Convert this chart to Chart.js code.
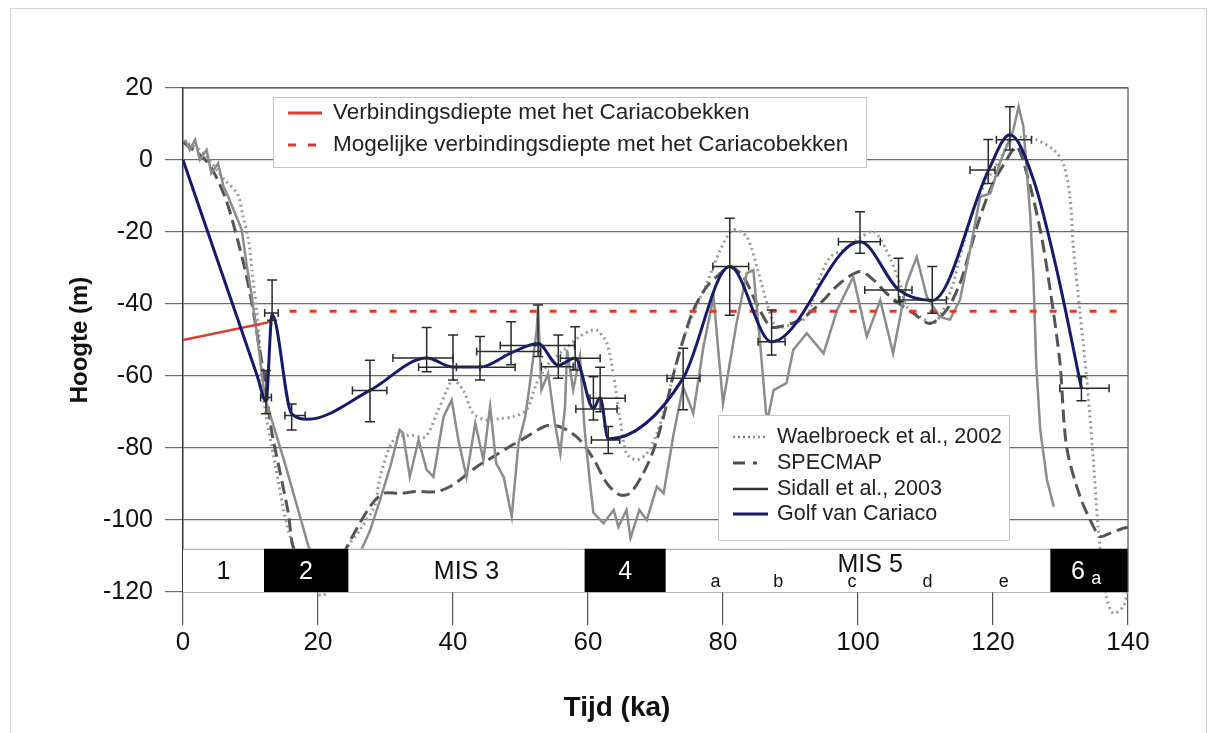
<!DOCTYPE html>
<html>
<head>
<meta charset="utf-8">
<script src="https://cdn.jsdelivr.net/npm/chart.js@4.4.1/dist/chart.umd.min.js"></script>
<style>
  html, body { margin: 0; padding: 0; background: #fff; }
  canvas { display: block; }
</style>
</head>
<body>
<canvas id="chart" width="1214" height="733"></canvas>
<script>
// Golf van Cariaco (smooth curve through the dated samples)
const golfKa = [0, 4, 8, 11, 12.3, 13.2, 16.1, 18.5, 27.7, 36.1, 40, 44, 48.7, 52.6, 55.6, 58.1, 60.8, 61.8, 63, 74.1, 81, 87.2, 100.3, 106, 111, 119.3, 122.5, 126, 129.5, 133.1];
const golfM  = [0, -21.8, -43.6, -60, -67, -43, -70.5, -72, -64, -55, -57.5, -57.5, -53.5, -51, -57, -55, -69, -66, -77.5, -60.6, -29.6, -50.5, -22.7, -36, -39, -3, 7, -5.5, -31, -63.4];

// error bars of the Cariaco samples
const ebKa   = [12.3, 13.2, 16.1, 27.7, 36.1, 40.0, 44.0, 48.6, 52.6, 55.6, 58.1, 60.8, 61.8, 63.0, 74.1, 81.0, 87.2, 100.3, 106.0, 111.0, 119.3, 122.5, 133.1];
const ebM    = [-66, -42.5, -71, -64, -55, -57.6, -57.6, -53.2, -51.5, -57.4, -55.1, -69.2, -66.2, -77.8, -60.6, -29.6, -50.5, -22.7, -36.1, -38.9, -2.8, 5.6, -63.4];
const ebKaLo = [11.5, 12.1, 15.1, 25.1, 31.1, 34.9, 40.5, 43.5, 47.0, 53.1, 55.9, 58.2, 60.3, 60.5, 71.7, 78.5, 85.2, 97.1, 101.0, 106.2, 116.6, 120.5, 129.9];
const ebKaHi = [13.1, 14.1, 18.1, 30.2, 40.0, 44.0, 49.2, 53.0, 58.0, 57.8, 61.8, 64.3, 65.5, 64.7, 76.6, 83.8, 89.2, 103.3, 108.0, 113.1, 120.3, 125.7, 137.2];
const ebMLo  = [-70.5, -44.5, -75, -72.7, -58.8, -61.1, -61.1, -56.9, -54.6, -60.6, -58.3, -72.2, -69.9, -81.5, -69.4, -43.1, -54.2, -25.9, -39.4, -42.6, -6.5, 2.8, -66.9];
const ebMHi  = [-58.5, -33.3, -67.8, -55.6, -46.5, -48.6, -49.0, -44.9, -40.3, -48.6, -46.3, -60.2, -57.6, -74.0, -52.3, -16.2, -41.7, -14.4, -27.3, -29.6, 5.7, 14.8, -60.2];

// Waelbroeck et al., 2002
const waeKa = [0, 0.8, 3, 6.2, 8.1, 8.9, 9.7, 10.2, 11.2, 11.9, 13.6, 15.6, 18, 20.5, 23, 24.4, 26.2, 28.4, 29.2, 31.2, 33.6, 35.9, 37.6, 39.1, 40.0, 41.5, 43, 45, 47, 48.9, 50.9, 52.4, 54, 56.3, 58.8, 60.3, 61.3, 62.8, 63.8, 64.7, 65.7, 67.2, 68.7, 70.2, 71.7, 73.6, 75.6, 77.6, 79.6, 81.5, 83.5, 85, 86.5, 87.5, 88.4, 90.4, 92.4, 94.4, 95.9, 97.8, 100, 102.3, 104.2, 106.2, 107.2, 109.2, 111.2, 112.6, 114.1, 115.1, 117.1, 119.1, 121, 122.5, 124.5, 126, 129, 130.4, 131.4, 131.9, 132.9, 133.9, 134.9, 135.6, 136.8, 137.8, 139.3, 140];
const waeM  = [5, 4.6, 2, -5.6, -9.5, -15.7, -22.2, -30.5, -47, -66, -84, -102.8, -115, -121, -116, -107.5, -102.8, -96, -88, -77.8, -76.4, -76.9, -70.4, -63.9, -61, -63.9, -70.4, -72.2, -71.8, -71.3, -69.4, -62, -57, -53, -49, -47.5, -47.2, -50.9, -60, -71.3, -81.5, -83.3, -81.5, -76, -66.7, -52.8, -42.6, -34.3, -25, -19.4, -21.3, -29.6, -39.8, -45.4, -46.5, -45.5, -43.5, -32.4, -26.9, -25, -22, -19.9, -25, -34.3, -40.7, -43.5, -45.4, -41.7, -34.3, -26.9, -13.9, -5.6, 0, 5, 6.5, 6, 2.8, -0.9, -10.2, -24.1, -42.6, -61.1, -84.3, -102.8, -121.3, -125.9, -124, -119];

// SPECMAP
const spcKa = [0, 3.7, 6.2, 7.7, 9.2, 10.2, 11.2, 12.1, 13.1, 14.1, 15.6, 16.3, 18.5, 20.5, 23, 24.3, 27.7, 29.7, 32.1, 34.6, 37.6, 39.6, 41, 43.5, 46, 48.4, 50.9, 53.4, 54.9, 56.9, 58.8, 60.8, 62.8, 64.7, 66.2, 68.2, 69.7, 71.2, 72.7, 74.1, 75.6, 77.6, 79.6, 81, 83, 85, 87, 88.4, 91.4, 94.4, 97.3, 100.3, 102.3, 104.2, 106.2, 108.2, 110.7, 113.1, 115.1, 116.6, 118.1, 120, 122, 123.5, 125, 127, 128.4, 129.9, 130.9, 132.9, 134.9, 135.9, 137.3, 139.3, 140];
const spcM  = [5, -0.8, -10.2, -19.4, -30.5, -39.8, -50.9, -61.1, -75, -84.3, -98.1, -107.4, -118, -121, -113, -107.4, -96.3, -92.6, -92.6, -92.1, -92.1, -90.7, -88.9, -85.2, -82.4, -79.6, -76.9, -74.1, -73.6, -75, -77.8, -83, -89.8, -93, -92.6, -87, -80.6, -71.3, -59.3, -50, -41.7, -35.2, -31.5, -29.6, -32.4, -40, -46.3, -46.3, -44.4, -39.8, -34.3, -31, -33.3, -37, -40, -42.6, -45.4, -41.7, -34.3, -25, -15.7, -6.5, 0, 3.7, -3.7, -19.4, -35.2, -56, -79.6, -93.5, -101.9, -104.6, -103.7, -102.3, -102];

// Sidall et al., 2003
const sidKa = [0.3, 1, 1.8, 2.5, 3.5, 4.2, 5.2, 6, 6.7, 7.7, 8.7, 9.4, 10.2, 11.2, 12.1, 15.1, 18.6, 22, 26, 27.7, 29.2, 30.7, 32.1, 32.6, 33.6, 34.9, 36.1, 37.1, 38.6, 39.8, 40.8, 42, 43.3, 44.5, 45.5, 46.4, 47.5, 48.7, 49.7, 50.7, 51.4, 52.4, 52.6, 53.1, 54.1, 55.1, 55.9, 56.6, 56.9, 57.8, 58.8, 59.5, 60.3, 60.8, 62.3, 63.8, 64.5, 65.7, 66.3, 67.6, 68.7, 70.2, 71.2, 72.7, 74.1, 75.6, 77.1, 78.6, 80, 82, 83.5, 84.5, 85.5, 86.5, 87.5, 89.4, 90.4, 92.4, 94.9, 96.9, 99.3, 101.3, 103.3, 105.2, 107.2, 108.7, 110.2, 112.1, 113.6, 115.1, 116.6, 118.1, 119.6, 121, 123, 123.8, 124.5, 125.5, 126, 126.4, 127, 128, 129];
const sidM  = [5.6, 2.8, 5.6, 0, 2.8, -3.7, -0.9, -7.4, -10.2, -14.8, -19.4, -28.7, -38, -51.9, -65.7, -84.3, -107.4, -121, -110, -103, -94.4, -85.2, -75, -75.9, -88, -77.8, -86.1, -88, -71.3, -66.7, -77.8, -88, -73.1, -83.3, -68.5, -84.3, -88, -99, -78.7, -71.3, -62, -47.2, -40.7, -63.9, -59.3, -73.1, -81.5, -68.5, -52.8, -63.9, -54.6, -75, -89.8, -98, -100.9, -97.2, -101.9, -97.2, -105, -97.2, -100, -90.7, -92.6, -75.9, -63, -70.4, -51.9, -38, -67.6, -45.4, -31.5, -30.6, -50.9, -73, -63.9, -62, -52.8, -48.1, -53.7, -41.7, -32.4, -49, -38.9, -53.7, -34.3, -26.9, -38, -43.5, -44.4, -38.9, -25, -10.2, -9.3, -0.9, 8.3, 14.8, 9.3, -14.8, -33.3, -56.5, -75, -88.9, -96.3];

// connection depth with the Cariaco basin
const verbKa = [0, 12.9, 13.3];
const verbM  = [-50, -45, -42.5];
const mogKa  = [15.8, 140];
const mogM   = [-42, -42];

// marine isotope stages band
const misFrom  = [0, 12, 24.5, 59.5, 71.5, 128.5];
const misTo    = [12, 24.5, 59.5, 71.5, 128.5, 140];
const misText  = ['1', '2', 'MIS 3', '4', 'MIS 5', '6'];
const misAtKa  = [6, 18.2, 42, 65.5, 101.8, 132.6];
const misDark  = [false, true, false, true, false, true];
const subText  = ['a', 'b', 'c', 'd', 'e'];
const subAtKa  = [78.9, 88.2, 99.1, 110.3, 121.6];

const yTicks = [20, 0, -20, -40, -60, -80, -100, -120];
const xTicks = [0, 20, 40, 60, 80, 100, 120, 140];

const FONT = '"Liberation Sans", Arial, sans-serif';
const NAVY = '#161a6e';
const RED = '#de3a2f';

const pts = (xs, ys) => xs.map((v, i) => ({x: v, y: ys[i]}));

const extras = {
  id: 'extras',
  beforeDraw(chart) {
    const {ctx} = chart;
    ctx.save();
    ctx.strokeStyle = '#d4d4d4';
    ctx.lineWidth = 1;
    ctx.strokeRect(10.5, 8.5, 1196, 740);
    ctx.restore();
  },
  afterDatasetsDraw(chart) {
    const {ctx, chartArea: a, scales: {x, y}} = chart;
    ctx.save();
    // error bars
    ctx.strokeStyle = '#2a2a2a';
    ctx.lineWidth = 1.5;
    ebKa.forEach((k, i) => {
      const px = x.getPixelForValue(k);
      const py = y.getPixelForValue(ebM[i]);
      const t = y.getPixelForValue(ebMHi[i]);
      const b = y.getPixelForValue(ebMLo[i]);
      const l = x.getPixelForValue(ebKaLo[i]);
      const r = x.getPixelForValue(ebKaHi[i]);
      ctx.beginPath();
      ctx.moveTo(px, t); ctx.lineTo(px, b);
      ctx.moveTo(px - 5, t); ctx.lineTo(px + 5, t);
      ctx.moveTo(px - 5, b); ctx.lineTo(px + 5, b);
      ctx.moveTo(l, py); ctx.lineTo(r, py);
      ctx.moveTo(l, py - 4); ctx.lineTo(l, py + 4);
      ctx.moveTo(r, py - 4); ctx.lineTo(r, py + 4);
      ctx.stroke();
    });

    // MIS band
    const top = y.getPixelForValue(-108);
    const bot = y.getPixelForValue(-120);
    ctx.fillStyle = '#fff';
    ctx.fillRect(a.left, top, a.right - a.left, bot - top);
    ctx.strokeStyle = '#9a9a9a';
    ctx.lineWidth = 1;
    ctx.beginPath();
    ctx.moveTo(a.left, top + 0.5); ctx.lineTo(a.right, top + 0.5);
    ctx.stroke();
    ctx.textAlign = 'center';
    ctx.textBaseline = 'middle';
    misFrom.forEach((f, i) => {
      const l = x.getPixelForValue(f), r = x.getPixelForValue(misTo[i]);
      if (misDark[i]) {
        ctx.fillStyle = '#000';
        ctx.fillRect(l, top, r - l, bot - top);
      }
      ctx.fillStyle = misDark[i] ? '#fff' : '#111';
      ctx.font = `25px ${FONT}`;
      const ly = i === 4 ? y.getPixelForValue(-112.4) : y.getPixelForValue(-114.4);
      ctx.fillText(misText[i], x.getPixelForValue(misAtKa[i]), ly);
    });
    ctx.font = `18px ${FONT}`;
    ctx.fillStyle = '#111';
    subText.forEach((s, i) => {
      ctx.fillText(s, x.getPixelForValue(subAtKa[i]), y.getPixelForValue(-117.3));
    });
    ctx.fillStyle = '#fff';
    ctx.fillText('a', x.getPixelForValue(135.3), y.getPixelForValue(-116.5));

    // frame top and right
    ctx.strokeStyle = '#555';
    ctx.lineWidth = 1.2;
    ctx.beginPath();
    ctx.moveTo(a.left, a.top); ctx.lineTo(a.right, a.top); ctx.lineTo(a.right, a.bottom);
    ctx.stroke();
    ctx.restore();
  },
  afterDraw(chart) {
    const {ctx} = chart;
    ctx.save();
    // axis titles
    ctx.fillStyle = '#111';
    ctx.textAlign = 'center';
    ctx.textBaseline = 'middle';
    ctx.font = `bold 28px ${FONT}`;
    ctx.fillText('Tijd (ka)', 617, 708);
    ctx.translate(80, 340);
    ctx.rotate(-Math.PI / 2);
    ctx.font = `bold 24px ${FONT}`;
    ctx.fillText('Hoogte (m)', 0, 0);
    ctx.restore();

    // legend top
    ctx.save();
    ctx.fillStyle = '#fff';
    ctx.strokeStyle = '#c4c4c4';
    ctx.lineWidth = 1;
    ctx.fillRect(273, 97, 593, 70);
    ctx.strokeRect(273.5, 97.5, 593, 70);
    ctx.lineWidth = 3;
    ctx.strokeStyle = RED;
    ctx.beginPath(); ctx.moveTo(288, 113); ctx.lineTo(322, 113); ctx.stroke();
    ctx.setLineDash([8, 12]);
    ctx.beginPath(); ctx.moveTo(288, 145); ctx.lineTo(322, 145); ctx.stroke();
    ctx.setLineDash([]);
    ctx.fillStyle = '#222';
    ctx.font = `22.5px ${FONT}`;
    ctx.textBaseline = 'middle';
    ctx.fillText('Verbindingsdiepte met het Cariacobekken', 333, 113);
    ctx.fillText('Mogelijke verbindingsdiepte met het Cariacobekken', 333, 145);

    // legend bottom
    ctx.fillStyle = '#fff';
    ctx.strokeStyle = '#c4c4c4';
    ctx.lineWidth = 1;
    ctx.fillRect(718, 415, 291, 125);
    ctx.strokeRect(718.5, 415.5, 291, 125);
    const items = [
      ['Waelbroeck et al., 2002', '#8a8a8a', 2.5, [2, 3]],
      ['SPECMAP', '#4a4a4a', 3, [12, 8, 4, 40]],
      ['Sidall et al., 2003', '#333', 2.5, []],
      ['Golf van Cariaco', NAVY, 3, []]
    ];
    const rows = [437, 463, 489, 514];
    items.forEach((it, i) => {
      ctx.strokeStyle = it[1];
      ctx.lineWidth = it[2];
      ctx.setLineDash(it[3]);
      ctx.beginPath(); ctx.moveTo(733, rows[i]); ctx.lineTo(768, rows[i]); ctx.stroke();
      ctx.setLineDash([]);
      ctx.fillStyle = '#222';
      ctx.font = `21.5px ${FONT}`;
      ctx.fillText(it[0], 777, rows[i]);
    });
    ctx.restore();
  }
};

new Chart(document.getElementById('chart'), {
  type: 'line',
  data: {
    datasets: [
      {label: 'Golf van Cariaco', data: pts(golfKa, golfM), borderColor: NAVY, borderWidth: 3, cubicInterpolationMode: 'monotone'},
      {label: 'Verbindingsdiepte', data: pts(verbKa, verbM), borderColor: RED, borderWidth: 2.5},
      {label: 'Mogelijke verbindingsdiepte', data: pts(mogKa, mogM), borderColor: RED, borderWidth: 3, borderDash: [7, 13]},
      {label: 'Sidall et al., 2003', data: pts(sidKa, sidM), borderColor: '#8c8c8c', borderWidth: 2.5},
      {label: 'SPECMAP', data: pts(spcKa, spcM), borderColor: '#555', borderWidth: 3, borderDash: [13, 6], tension: 0.3},
      {label: 'Waelbroeck et al., 2002', data: pts(waeKa, waeM), borderColor: '#9a9a9a', borderWidth: 3, borderDash: [2, 3.5], tension: 0.3,
       clip: {left: 0, top: 0, right: 0, bottom: 25}}
    ]
  },
  options: {
    responsive: false,
    animation: false,
    devicePixelRatio: 1,
    elements: {point: {radius: 0}, line: {tension: 0, fill: false}},
    layout: {padding: {top: 88, right: 86, left: 0, bottom: 0}},
    plugins: {legend: {display: false}, tooltip: {enabled: false}},
    scales: {
      x: {
        type: 'linear', min: 0, max: 140,
        afterFit: s => { s.height = 141; },
        afterBuildTicks: s => { s.ticks = xTicks.map(v => ({value: v})); },
        grid: {drawOnChartArea: false, drawTicks: true, tickLength: 33, color: '#555', lineWidth: 1.2},
        border: {color: '#555', width: 1.2},
        ticks: {color: '#111', font: {family: FONT, size: 26}, padding: 2, maxRotation: 0}
      },
      y: {
        min: -120, max: 20,
        afterFit: s => { s.width = 183; },
        afterBuildTicks: s => { s.ticks = yTicks.map(v => ({value: v})); },
        grid: {color: '#6a6a6a', lineWidth: 1.2, tickLength: 18},
        border: {color: '#333', width: 1.5},
        ticks: {color: '#111', font: {family: FONT, size: 25}, padding: 12}
      }
    }
  },
  plugins: [extras]
});
</script>
</body>
</html>
